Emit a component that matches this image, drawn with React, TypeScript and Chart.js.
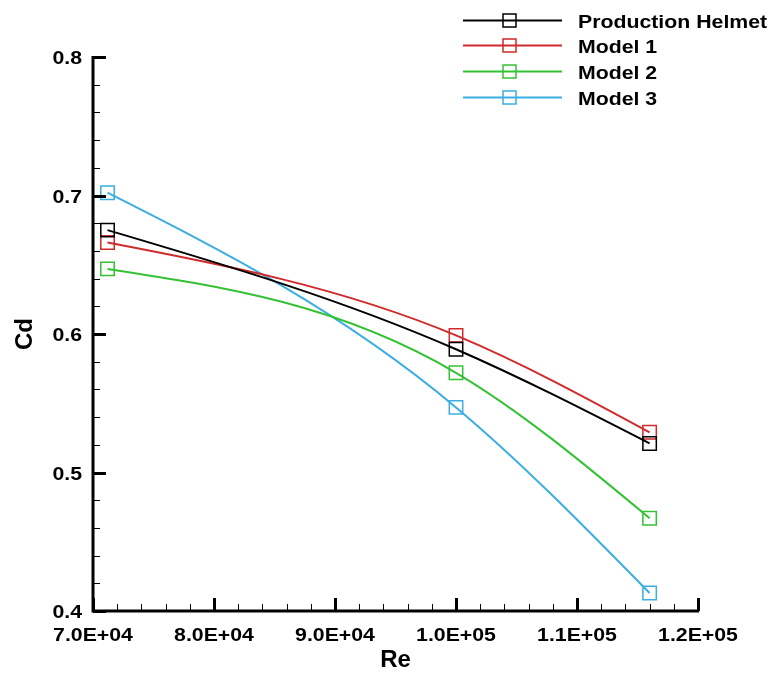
import React, { useEffect, useRef } from "react";
import { Chart, registerables } from "chart.js";

Chart.register(...registerables);

const seriesNames = ["Production Helmet", "Model 1", "Model 2", "Model 3"];
const reynolds = [71200, 100000, 116000];
const productionHelmet = [0.675, 0.589, 0.521];
const model1 = [0.666, 0.599, 0.529];
const model2 = [0.647, 0.572, 0.467];
const model3 = [0.702, 0.547, 0.413];
const seriesColors = ["#000000", "#d02a2a", "#34c234", "#3aaee2"];
const xTickLabels: Record<number, string> = {
  70000: "7.0E+04",
  80000: "8.0E+04",
  90000: "9.0E+04",
  100000: "1.0E+05",
  110000: "1.1E+05",
  120000: "1.2E+05",
};

const FONT = "'Liberation Sans', Arial, sans-serif";
const STRETCH = 1.15;

// Natural cubic spline control points (pixel space) applied to Chart.js line points
const splinePlugin = {
  id: "naturalSpline",
  beforeDatasetDraw(chart: any, args: any) {
    const meta = args.meta;
    const el = meta.dataset;
    if (!el) return;
    el.updateControlPoints(chart.chartArea, "x");
    const pts = meta.data;
    const n = pts.length;
    if (n < 3) return;
    const xs = pts.map((p: any) => p.x);
    const ys = pts.map((p: any) => p.y);
    const h: number[] = [];
    const s: number[] = [];
    for (let i = 0; i < n - 1; i++) {
      h.push(xs[i + 1] - xs[i]);
      s.push((ys[i + 1] - ys[i]) / h[i]);
    }
    const M = new Array(n).fill(0);
    const m = n - 2;
    const a: number[] = [], b: number[] = [], c: number[] = [], d: number[] = [];
    for (let i = 1; i <= m; i++) {
      a.push(h[i - 1]);
      b.push(2 * (h[i - 1] + h[i]));
      c.push(h[i]);
      d.push(6 * (s[i] - s[i - 1]));
    }
    for (let i = 1; i < m; i++) {
      const w = a[i] / b[i - 1];
      b[i] -= w * c[i - 1];
      d[i] -= w * d[i - 1];
    }
    for (let i = m - 1; i >= 0; i--) {
      M[i + 1] = (d[i] - (i < m - 1 ? c[i] * M[i + 2] : 0)) / b[i];
    }
    const der: number[] = [];
    for (let i = 0; i < n; i++) {
      if (i < n - 1) der.push(s[i] - (h[i] * (2 * M[i] + M[i + 1])) / 6);
      else der.push(s[n - 2] + (h[n - 2] * (2 * M[n - 1] + M[n - 2])) / 6);
    }
    for (let i = 0; i < n; i++) {
      const p = pts[i];
      const hp = i > 0 ? h[i - 1] : 0;
      const hn = i < n - 1 ? h[i] : 0;
      p.cp1x = xs[i] - hp / 3;
      p.cp1y = ys[i] - (der[i] * hp) / 3;
      p.cp2x = xs[i] + hn / 3;
      p.cp2y = ys[i] + (der[i] * hn) / 3;
    }
  },
};

function stretchedText(ctx: any, text: string, x: number, y: number, align: string) {
  ctx.save();
  ctx.translate(x, y);
  ctx.scale(STRETCH, 1);
  ctx.textAlign = align;
  ctx.fillText(text, 0, 0);
  ctx.restore();
}

const axesPlugin = {
  id: "tecAxes",
  afterDraw(chart: any) {
    const { ctx, chartArea } = chart;
    const xs = chart.scales.x;
    const ys = chart.scales.y;
    const left = chartArea.left;
    const bottom = chartArea.bottom;
    ctx.save();
    ctx.strokeStyle = "#000";
    for (let i = 0; i <= 20; i++) {
      const v = 0.4 + i * 0.02;
      const y = Math.round(ys.getPixelForValue(v)) + 0.5;
      const major = i % 5 === 0;
      ctx.lineWidth = major ? 3 : 1;
      ctx.beginPath();
      ctx.moveTo(left, y);
      ctx.lineTo(left + (major ? 13 : 7), y);
      ctx.stroke();
    }
    for (let i = 0; i <= 25; i++) {
      const v = 70000 + i * 2000;
      const x = Math.round(xs.getPixelForValue(v)) + 0.5;
      const major = i % 5 === 0;
      ctx.lineWidth = major ? 3 : 1;
      ctx.beginPath();
      ctx.moveTo(x, bottom);
      ctx.lineTo(x, bottom - (major ? 13 : 7));
      ctx.stroke();
    }
    ctx.lineWidth = 3;
    ctx.beginPath();
    ctx.moveTo(left, chartArea.top - 1);
    ctx.lineTo(left, bottom);
    ctx.lineTo(chartArea.right + 1, bottom);
    ctx.stroke();

    // tick labels (from the scales' own ticks)
    ctx.fillStyle = "#000";
    ctx.font = `bold 18.5px ${FONT}`;
    ctx.textBaseline = "alphabetic";
    xs.ticks.forEach((t: any) => {
      const x = xs.getPixelForValue(t.value);
      stretchedText(ctx, xTickLabels[t.value] ?? String(t.label), x, bottom + 30, "center");
    });
    ys.ticks.forEach((t: any) => {
      const y = ys.getPixelForValue(t.value);
      stretchedText(ctx, Number(t.value).toFixed(1), left - 11, y + 7, "right");
    });
    ctx.restore();

    // legend
    ctx.save();
    const rows = [20, 45, 71, 97];
    chart.data.datasets.forEach((ds: any, i: number) => {
      const y = rows[i] + 0.5;
      ctx.strokeStyle = ds.borderColor;
      ctx.lineWidth = 2;
      ctx.beginPath();
      ctx.moveTo(463, y);
      ctx.lineTo(562, y);
      ctx.stroke();
      ctx.lineWidth = 1.5;
      ctx.strokeRect(503, y - 6.5, 13, 13);
      ctx.fillStyle = "#000";
      ctx.font = `bold 18.5px ${FONT}`;
      ctx.textBaseline = "alphabetic";
      stretchedText(ctx, ds.label, 578, y + 7, "left");
    });
    ctx.restore();
  },
};

export default function App() {
  const ref = useRef<HTMLCanvasElement | null>(null);
  useEffect(() => {
    if (!ref.current) return;
    const series = [productionHelmet, model1, model2, model3];
    const chart = new Chart(ref.current, {
      type: "line",
      data: {
        datasets: series.map((vals, i) => ({
          label: seriesNames[i],
          data: reynolds.map((x, j) => ({ x, y: vals[j] })),
          borderColor: seriesColors[i],
          backgroundColor: "transparent",
          borderWidth: 2,
          tension: 0.4,
          pointStyle: "rect",
          pointRadius: 9.5,
          pointBorderWidth: 1.5,
          pointBackgroundColor: "transparent",
          pointBorderColor: seriesColors[i],
          clip: false,
        })),
      },
      options: {
        responsive: false,
        animation: false,
        events: [],
        layout: { padding: { top: 57, right: 72, left: 0, bottom: 0 } },
        plugins: { legend: { display: false }, tooltip: { enabled: false } },
        scales: {
          x: {
            type: "linear",
            min: 70000,
            max: 120000,
            afterFit: (s: any) => {
              s.height = 64;
            },
            afterBuildTicks: (s: any) => {
              s.ticks = Object.keys(xTickLabels).map((k) => ({ value: Number(k) }));
            },
            grid: { display: false, drawTicks: false },
            border: { display: false },
            ticks: { display: false },
            title: {
              display: true,
              text: "Re",
              color: "#000",
              font: { family: FONT, size: 24, weight: "bold" },
              padding: { top: 0, bottom: 0 },
            },
          },
          y: {
            type: "linear",
            min: 0.4,
            max: 0.8,
            afterFit: (s: any) => {
              s.width = 93;
            },
            grid: { display: false, drawTicks: false },
            border: { display: false },
            ticks: { display: false, stepSize: 0.1 },
            title: {
              display: true,
              text: "Cd",
              color: "#000",
              font: { family: FONT, size: 24, weight: "bold" },
              padding: { top: 11, bottom: 0 },
            },
          },
        },
      },
      plugins: [splinePlugin, axesPlugin],
    } as any);
    return () => chart.destroy();
  }, []);
  return (
    <div style={{ position: "fixed", left: 0, top: 0, width: 770, height: 675, background: "#fff" }}>
      <canvas ref={ref} width={770} height={675} style={{ width: 770, height: 675 }} />
    </div>
  );
}
